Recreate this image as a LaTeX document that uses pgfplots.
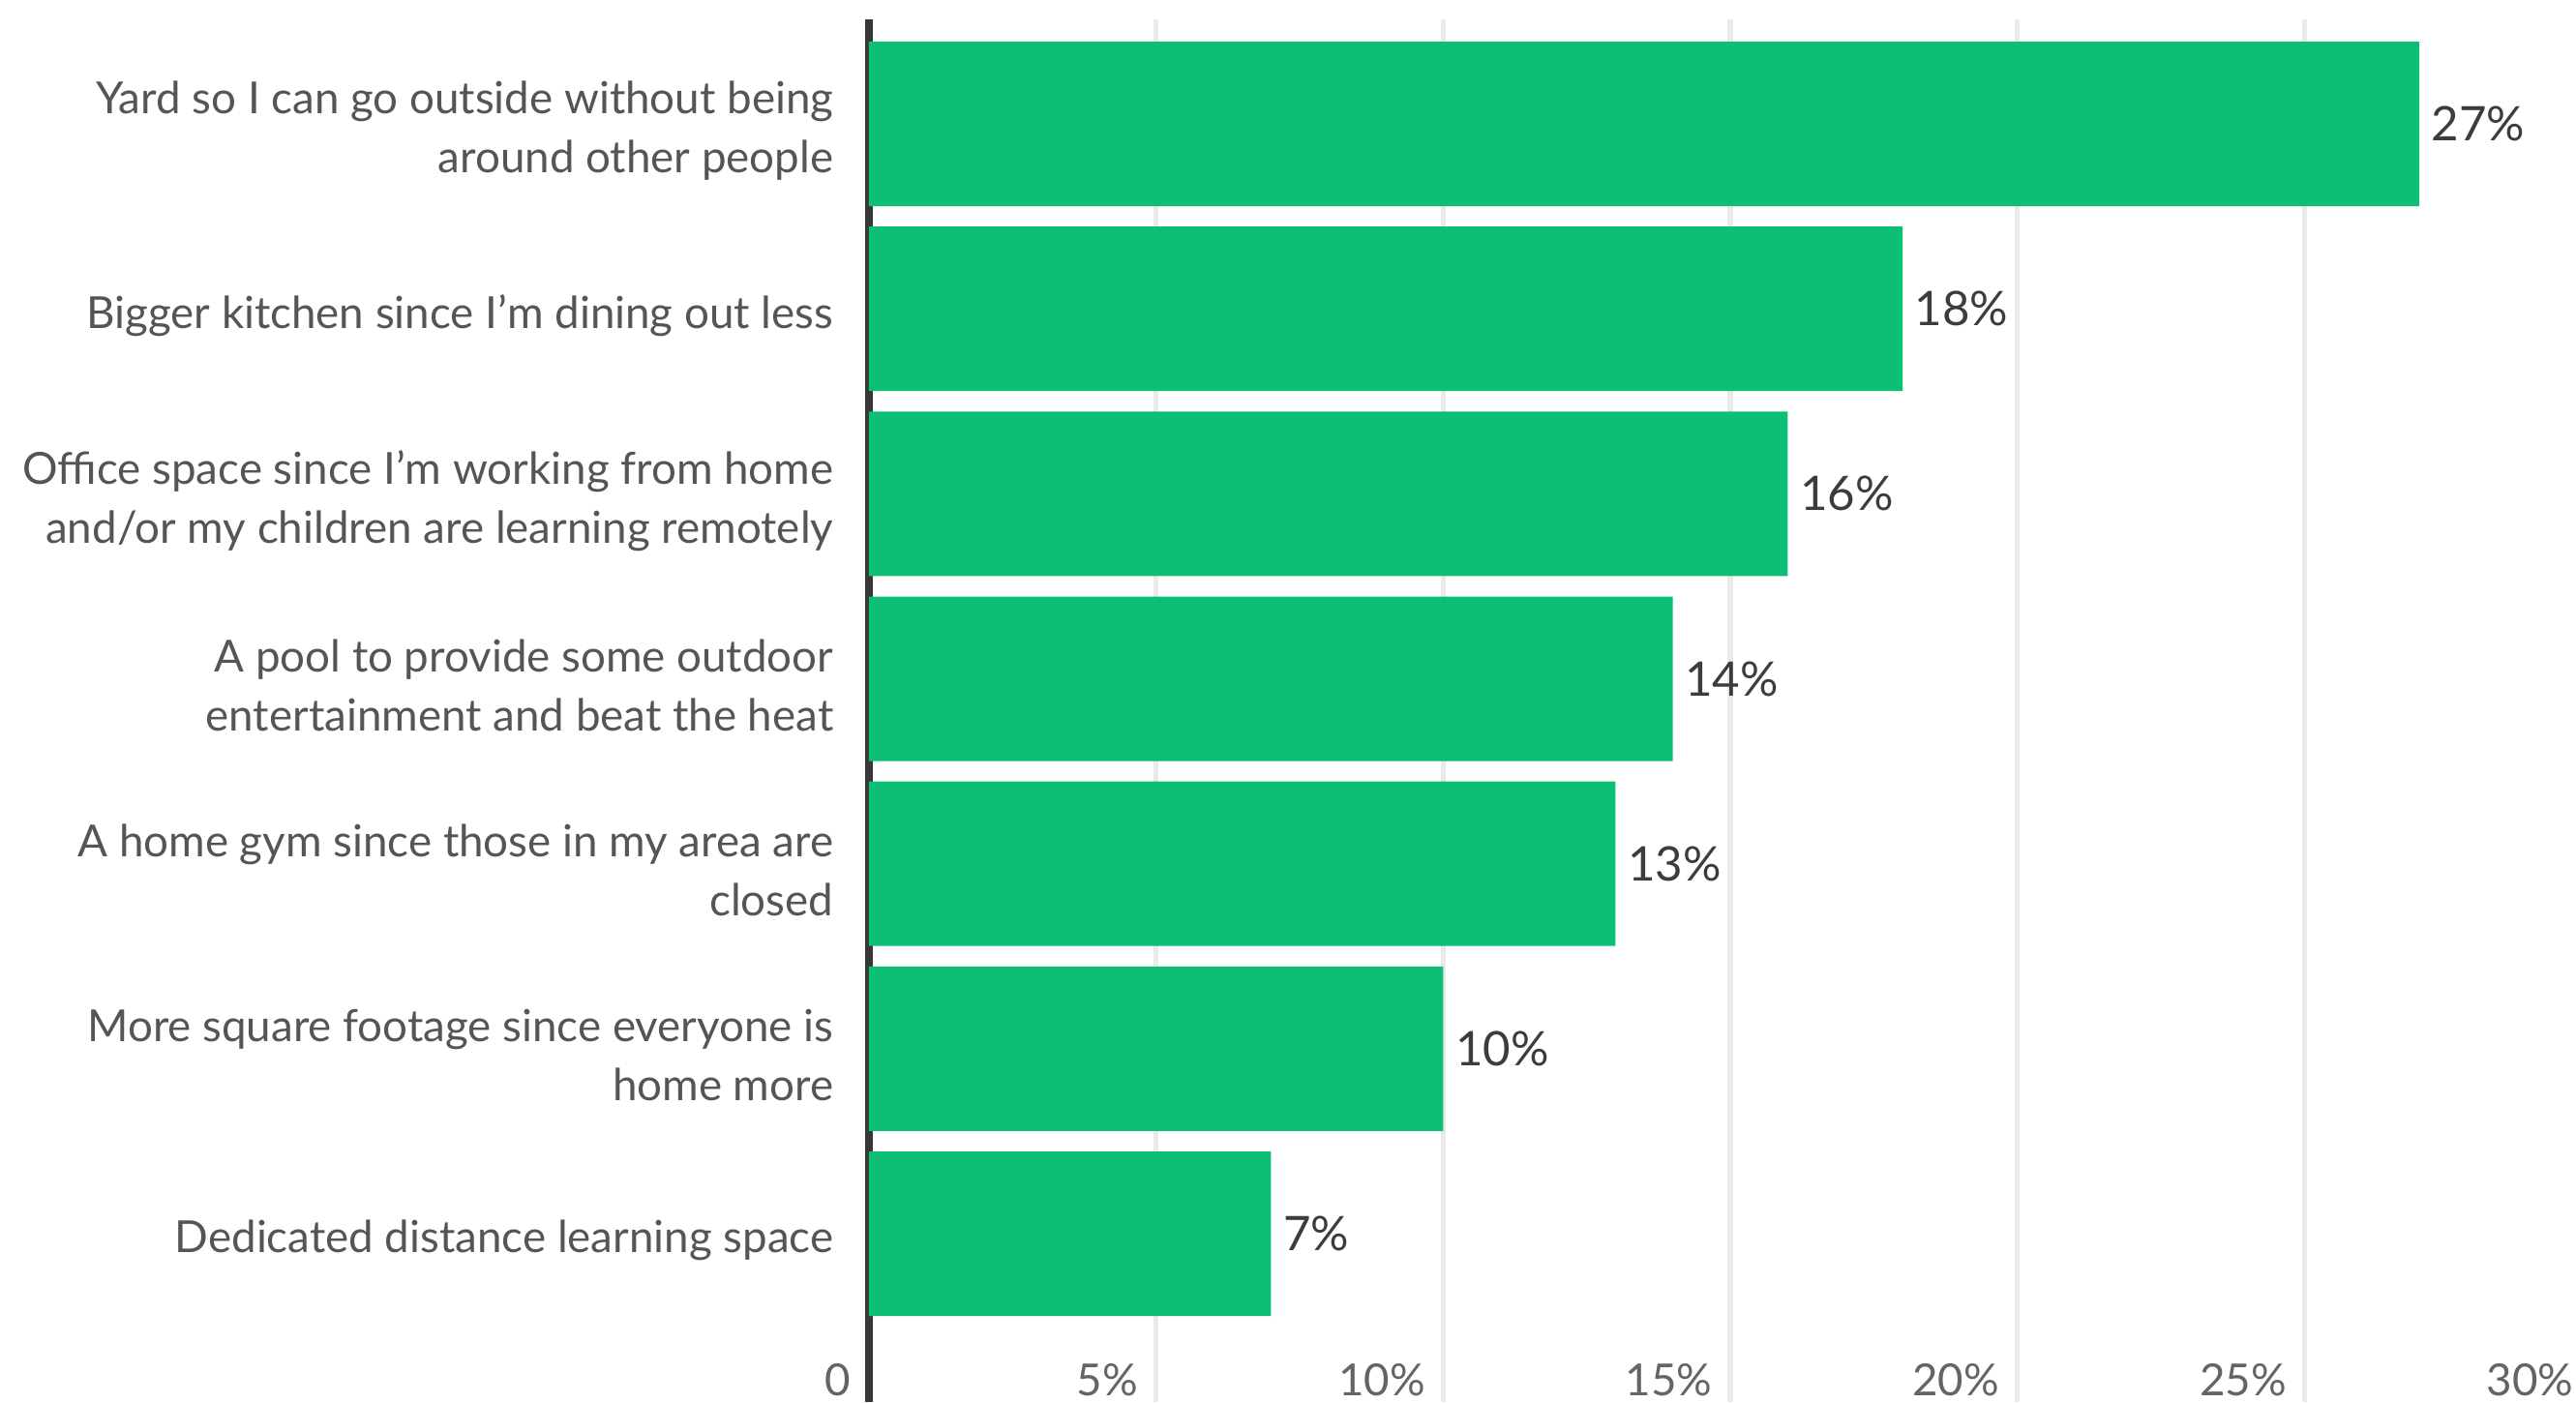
\documentclass[border=0pt]{standalone}
\usepackage{pgfplots}
\pgfplotsset{compat=1.18}
\usepackage{fontspec}
\setmainfont{Lato}
\definecolor{barg}{RGB}{12,191,116}
\definecolor{gridc}{RGB}{234,234,234}
\definecolor{axc}{RGB}{55,55,55}
\definecolor{catc}{RGB}{85,85,85}
\definecolor{valc}{RGB}{60,60,60}
\definecolor{tickc}{RGB}{100,100,100}
\begin{document}
\begin{tikzpicture}
\begin{axis}[
  scale only axis, width=17.80cm, height=14.29cm,
  xmin=0, xmax=30, ymin=0.09, ymax=7.565,
  xbar, bar width=1.70cm,
  axis x line*=bottom, axis y line*=left,
  x axis line style={draw=none},
  y axis line style={draw=axc, line width=2.2pt, -},
  xtick={0,5,...,30}, xticklabels={0,5\%,10\%,15\%,20\%,25\%,30\%},
  ytick={1,...,7},
  yticklabels={
    {Dedicated distance learning space},
    {More square footage since everyone is\\home more},
    {A home gym since those in my area are\\closed},
    {A pool to provide some outdoor\\entertainment and beat the heat},
    {Office space since I'm working from home\\and/or my children are learning remotely},
    {Bigger kitchen since I'm dining out less},
    {Yard so I can go outside without being\\around other people}},
  major tick length=0pt,
  xmajorgrids, grid style={gridc, line width=1.5pt},
  xticklabel style={anchor=base east, inner sep=0pt, xshift=-0.18cm, yshift=0.07cm, font=\fontsize{13}{15}\selectfont, text=tickc},
  yticklabel style={anchor=east, inner sep=0pt, xshift=-0.36cm, yshift=-0.07cm, align=right, font=\fontsize{13}{17.4}\selectfont, text=catc},
  nodes near coords={\pgfmathprintnumber{\pgfplotspointmeta}\%},
  nodes near coords style={anchor=west, inner sep=0pt, xshift=0.12cm, font=\fontsize{14}{16}\selectfont, text=valc},
  /pgf/number format/assume math mode=true,
]
\addplot[fill=barg, draw=none] coordinates {(7,1) (10,2) (13,3) (14,4) (16,5) (18,6) (27,7)};
\end{axis}
\pgfresetboundingbox
\useasboundingbox ([xshift=-8.98cm,yshift=0.2cm]current axis.north west) rectangle ([xshift=-0.16cm]current axis.south east);
\end{tikzpicture}
\end{document}
